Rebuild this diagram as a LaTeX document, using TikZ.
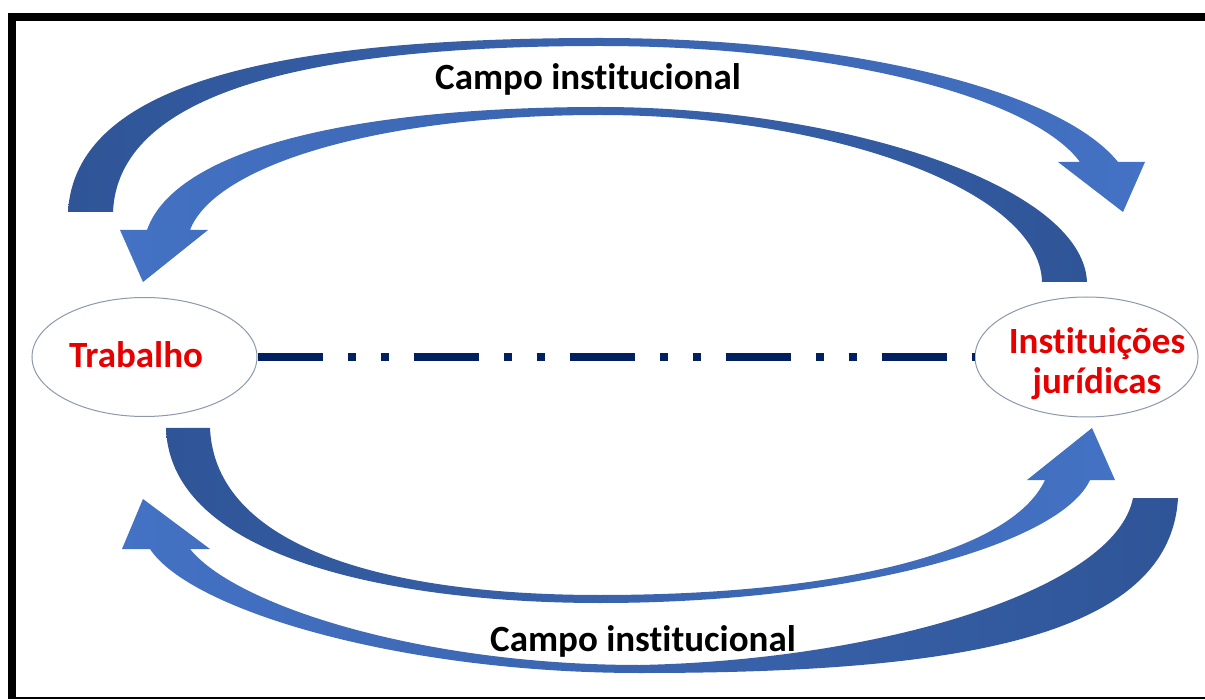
\documentclass[tikz,border=0pt]{standalone}
\usepackage{fontspec}
\setmainfont{Carlito}[RawFeature=-liga]
\usetikzlibrary{shapes.geometric}
\definecolor{adark}{RGB}{47,85,151}
\definecolor{alight}{RGB}{68,114,196}
\definecolor{navy}{RGB}{0,32,96}
\definecolor{tred}{RGB}{230,0,0}
\definecolor{egray}{RGB}{140,152,172}
\begin{document}
\begin{tikzpicture}[x=1pt,y=-1pt,
  blob/.style={ellipse, draw=egray, line width=1pt, fill=white, inner sep=0pt},
  lbl/.style={font=\fontsize{37}{40}\selectfont\bfseries, inner sep=0pt},
  rlbl/.style={lbl, text=tred, align=center},
  arrowR/.style={left color=adark, right color=alight, draw=none},
  arrowL/.style={left color=alight, right color=adark, draw=none},
  link/.style={draw=navy, line width=7.5pt, dash pattern=on 65pt off 25pt on 8pt off 25pt on 8pt off 25pt},
  frame/.style={fill=black, draw=none}
]
\useasboundingbox (0,0) rectangle (1205,700);
\fill[white] (0,0) rectangle (1205,700);
% frame
\path[frame] (8,13) rectangle (1205,21);
\path[frame] (8,13) rectangle (16,698);
\draw[line width=2pt] (8,698) -- (1205,698);

% arrow 1: top outer, to the right
\path[arrowR] (68,212) .. controls (75,85) and (270,38) .. (600,38)
  .. controls (850,38) and (1060,90) .. (1118,162)
  -- (1145,162) -- (1123,212) -- (1058,162) -- (1080,162)
  .. controls (1030,95) and (830,46) .. (600,46)
  .. controls (300,46) and (118,95) .. (113,212) -- cycle;

% arrow 2: top inner, to the left
\path[arrowL] (1087,282) .. controls (1083,185) and (840,107) .. (600,107)
  .. controls (350,107) and (175,150) .. (147,230)
  -- (120,230) -- (143,282) -- (208,230) -- (190,230)
  .. controls (215,165) and (380,115) .. (600,115)
  .. controls (830,115) and (1040,190) .. (1042,282) -- cycle;

% arrow 3: bottom inner, to the right
\path[arrowR] (166,428) .. controls (170,560) and (400,603) .. (600,603)
  .. controls (850,603) and (1060,545) .. (1090,480)
  -- (1115,480) -- (1092,428) -- (1027,480) -- (1045,480)
  .. controls (1010,555) and (830,595) .. (600,595)
  .. controls (380,595) and (215,545) .. (210,428) -- cycle;

% arrow 4: bottom outer, to the left
\path[arrowL] (1178,498) .. controls (1170,640) and (950,673) .. (640,673)
  .. controls (400,673) and (190,610) .. (150,549)
  -- (122,549) -- (143,499) -- (210,549) -- (190,549)
  .. controls (235,605) and (420,665) .. (640,665)
  .. controls (880,660) and (1115,590) .. (1133,498) -- cycle;

% nodes
\node[blob, minimum width=225pt, minimum height=119pt] (trab) at (144.5,357) {};
\node[blob, minimum width=223pt, minimum height=120pt] (inst) at (1086.5,357) {};
\draw[link] (trab.east) -- (inst.west);

\node[rlbl] (trabt) at (136,355) {Trabalho};
\node[rlbl] (instt) at (1097,364) {Instituições\\jurídicas};
\node[lbl] (ctop) at (588,79) {Campo institucional};
\node[lbl] (cbot) at (643,641) {Campo institucional};
\end{tikzpicture}
\end{document}
